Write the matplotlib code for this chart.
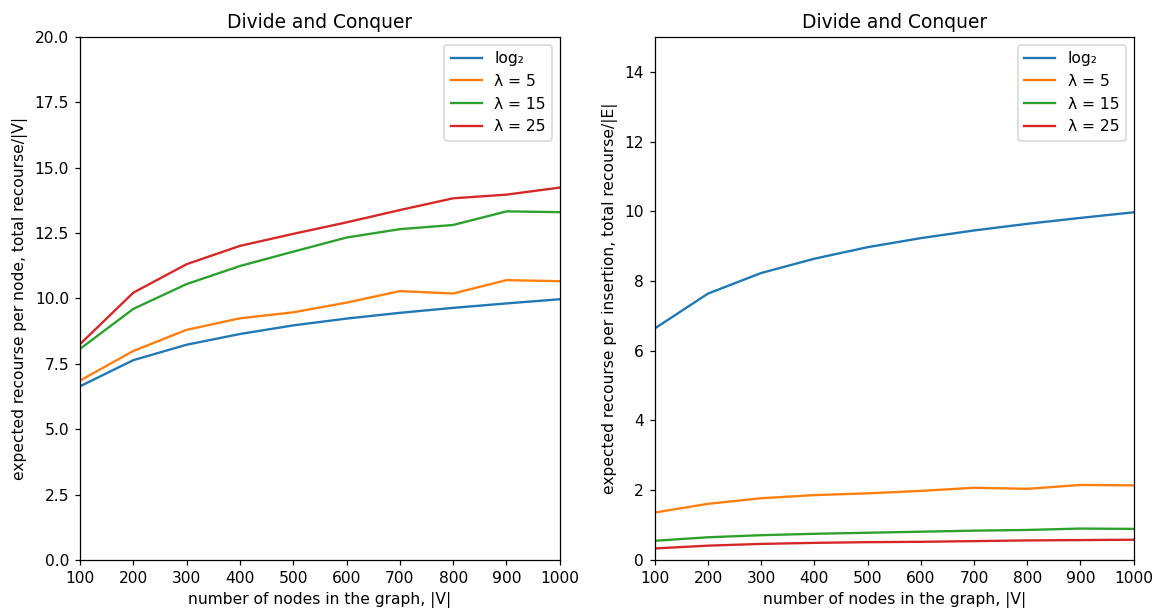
import matplotlib

matplotlib.use("Agg")
import matplotlib.pyplot as plt
import numpy as np

nodes = [100, 200, 300, 400, 500, 600, 700, 800, 900, 1000]
log2_vals = [6.64, 7.64, 8.23, 8.64, 8.97, 9.23, 9.45, 9.64, 9.81, 9.97]

# recourse per node
node_lam5 = [6.86, 7.99, 8.80, 9.24, 9.47, 9.84, 10.28, 10.19, 10.70, 10.66]
node_lam15 = [8.07, 9.60, 10.55, 11.24, 11.79, 12.33, 12.65, 12.81, 13.33, 13.30]
node_lam25 = [8.25, 10.22, 11.31, 12.01, 12.47, 12.91, 13.38, 13.83, 13.97, 14.24]

# recourse per insertion
ins_lam5 = [1.36, 1.61, 1.77, 1.86, 1.91, 1.98, 2.07, 2.04, 2.15, 2.14]
ins_lam15 = [0.55, 0.65, 0.71, 0.75, 0.78, 0.81, 0.84, 0.86, 0.90, 0.89]
ins_lam25 = [0.33, 0.41, 0.46, 0.49, 0.51, 0.52, 0.54, 0.56, 0.57, 0.58]

labels = ["log₂", "λ = 5", "λ = 15", "λ = 25"]

DPI = 112
fig = plt.figure(figsize=(1159 / DPI, 616 / DPI), dpi=DPI)
ax1 = fig.add_axes([0.069, 0.091, 0.414, 0.849])
ax2 = fig.add_axes([0.565, 0.091, 0.413, 0.849])

for ax, series, ylim, ylabel in [
    (ax1, [log2_vals, node_lam5, node_lam15, node_lam25], 20,
     "expected recourse per node, total recourse/|V|"),
    (ax2, [log2_vals, ins_lam5, ins_lam15, ins_lam25], 15,
     "expected recourse per insertion, total recourse/|E|"),
]:
    for vals, lab in zip(series, labels):
        ax.plot(nodes, vals, label=lab)
    ax.set_xlim(100, 1000)
    ax.set_ylim(0, ylim)
    ax.set_xticks(nodes)
    ax.set_title("Divide and Conquer")
    ax.set_xlabel("number of nodes in the graph, |V|")
    ax.set_ylabel(ylabel)
    ax.legend(loc="upper right")

ax1.set_yticks(np.arange(0, 20.1, 2.5))
ax2.set_yticks(np.arange(0, 15, 2))

fig.savefig("out.png", dpi=DPI)
